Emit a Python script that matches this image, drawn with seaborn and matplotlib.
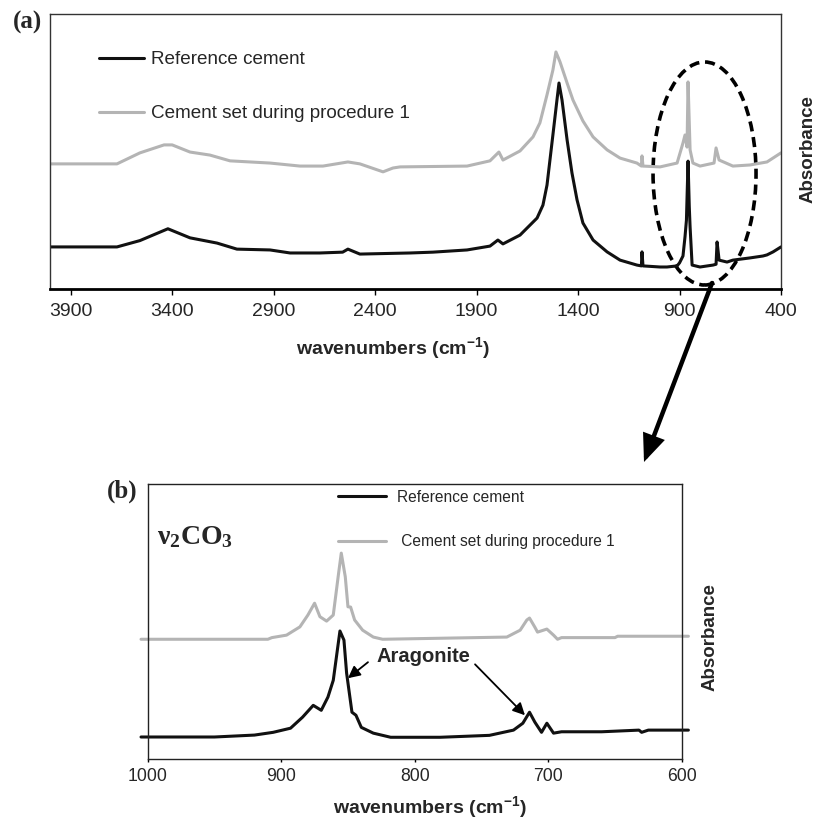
import matplotlib
matplotlib.use('Agg')
import matplotlib.pyplot as plt
import seaborn as sns
from matplotlib.patches import Ellipse, FancyArrowPatch

# ---------------- data ----------------
LABEL_REF = "Reference cement"
LABEL_CEM = "Cement set during procedure 1"

# panel (a): full spectrum
TOP_WN_REF = [4000, 3672, 3559, 3421, 3312, 3179, 3081, 2918, 2819, 2672, 2560, 2534,
              2475, 2228, 2115, 1947, 1834, 1795, 1770, 1686, 1602, 1573, 1553, 1524,
              1504, 1494, 1479, 1454, 1430, 1405, 1376, 1326, 1257, 1193, 1110, 1088,
              1085, 1080, 996, 962, 912, 900, 883, 873, 866, 858, 852, 848, 838, 799,
              735, 720, 715, 705, 666, 637, 553, 489, 469, 439, 400]
TOP_ABS_REF = [0.153, 0.153, 0.176, 0.219, 0.186, 0.167, 0.145, 0.142, 0.131, 0.131, 0.134, 0.145,
               0.127, 0.131, 0.134, 0.142, 0.156, 0.178, 0.164, 0.196, 0.258, 0.305, 0.378, 0.560,
               0.687, 0.749, 0.687, 0.542, 0.422, 0.324, 0.240, 0.178, 0.135, 0.105, 0.087, 0.084,
               0.135, 0.084, 0.080, 0.080, 0.084, 0.095, 0.120, 0.190, 0.250, 0.465, 0.300, 0.226,
               0.087, 0.080, 0.087, 0.090, 0.171, 0.105, 0.098, 0.105, 0.113, 0.120, 0.124, 0.135,
               0.153]
TOP_WN_CEM = [4000, 3672, 3559, 3440, 3400, 3312, 3214, 3115, 2918, 2770, 2657, 2534,
              2475, 2361, 2312, 2277, 1947, 1834, 1790, 1770, 1686, 1622, 1588, 1553,
              1524, 1509, 1489, 1454, 1425, 1376, 1326, 1257, 1193, 1110, 1088, 1085,
              1080, 996, 912, 883, 873, 863, 858, 848, 834, 799, 730, 720, 705, 637,
              553, 469, 400]
TOP_ABS_CEM = [0.455, 0.455, 0.495, 0.524, 0.524, 0.498, 0.487, 0.466, 0.458, 0.447, 0.447, 0.462,
               0.455, 0.426, 0.440, 0.444, 0.447, 0.466, 0.498, 0.469, 0.502, 0.553, 0.604, 0.706,
               0.796, 0.862, 0.826, 0.749, 0.687, 0.611, 0.553, 0.506, 0.476, 0.458, 0.447, 0.484,
               0.447, 0.444, 0.458, 0.531, 0.560, 0.516, 0.753, 0.506, 0.458, 0.447, 0.458, 0.513,
               0.469, 0.447, 0.451, 0.462, 0.495]
TOP_TICKS = [3900, 3400, 2900, 2400, 1900, 1400, 900, 400]

# panel (b): nu2 CO3 region
BOT_WN_REF = [1005, 950, 920, 906, 893, 884, 876, 870, 865, 861, 856, 853, 851, 847, 844,
              840, 831, 818, 781, 744, 726, 719, 714, 710, 705, 701, 696, 690, 660, 632,
              630, 625, 595]
BOT_ABS_REF = [0.081, 0.081, 0.088, 0.098, 0.113, 0.153, 0.196, 0.178, 0.226, 0.287, 0.466,
               0.433, 0.313, 0.171, 0.160, 0.116, 0.095, 0.080, 0.080, 0.087, 0.106, 0.131,
               0.171, 0.135, 0.098, 0.131, 0.095, 0.100, 0.100, 0.106, 0.098, 0.106, 0.106]
BOT_WN_CEM = [1005, 910, 907, 896, 886, 880, 875, 871, 866, 861, 857, 855, 852, 850, 848,
              845, 839, 831, 824, 731, 721, 716, 714, 710, 708, 701, 696, 693, 690, 650,
              648, 595]
BOT_ABS_CEM = [0.436, 0.436, 0.442, 0.451, 0.481, 0.524, 0.567, 0.518, 0.502, 0.524, 0.676,
               0.749, 0.663, 0.554, 0.553, 0.506, 0.469, 0.444, 0.436, 0.444, 0.469, 0.506,
               0.513, 0.480, 0.462, 0.473, 0.451, 0.436, 0.442, 0.442, 0.447, 0.447]
BOT_TICKS = [1000, 900, 800, 700, 600]

# ---------------- style ----------------
sns.set_style('white')
plt.rcParams['font.family'] = ['Liberation Sans', 'DejaVu Sans']
plt.rcParams['mathtext.default'] = 'regular'

BLACK = '#111111'
GRAY = '#b4b4b4'
W, H = 815, 825

def fx(px):
    return px / W

def fy(py):
    return 1 - py / H

fig = plt.figure(figsize=(W / 100, H / 100), dpi=100)
ax1 = fig.add_axes([fx(50), fy(289), 731 / W, 275 / H])
ax2 = fig.add_axes([fx(147.7), fy(759.3), 534 / W, 275.3 / H])

# ---------------- panel (a) ----------------
sns.lineplot(x=TOP_WN_REF, y=TOP_ABS_REF, ax=ax1, color=BLACK, lw=2.2,
             estimator=None, sort=False, label=LABEL_REF)
sns.lineplot(x=TOP_WN_CEM, y=TOP_ABS_CEM, ax=ax1, color=GRAY, lw=2.2,
             estimator=None, sort=False, label=LABEL_CEM)
for ln in ax1.get_lines():
    ln.set_solid_capstyle('round')
    ln.set_solid_joinstyle('round')

ax1.set_xlim(4002, 400)
ax1.set_ylim(0, 1)
ax1.set_xticks(TOP_TICKS)
ax1.set_xticklabels([str(t) for t in TOP_TICKS])
ax1.set_yticks([])
ax1.tick_params(axis='x', bottom=True, direction='out', length=4.3, width=1,
                labelsize=14, pad=6, color='black')
for side in ['top', 'right', 'left']:
    ax1.spines[side].set_linewidth(1.0)
    ax1.spines[side].set_color('#333333')
ax1.spines['bottom'].set_linewidth(2.0)
ax1.spines['bottom'].set_color('black')

ax1.set_xlabel('wavenumbers (cm$^{-1}$)', fontsize=14, fontweight='bold')
ax1.xaxis.set_label_coords(0.469, -0.2145)
ax1.xaxis.label.set_va('center')
ax1.set_ylabel('')
ax1.text(1.037, 0.509, 'Absorbance', rotation=90, ha='center', va='center',
         fontsize=13.5, fontweight='bold', transform=ax1.transAxes)

h, l = ax1.get_legend_handles_labels()
ax1.legend(h, l, loc='upper left', bbox_to_anchor=(0.067, 0.8654), frameon=False,
           fontsize=13.6, handlelength=2.38, handletextpad=0.37, labelspacing=1.95,
           borderpad=0, borderaxespad=0)

ax1.add_patch(Ellipse(xy=(0.8954, 0.42), width=0.1409, height=0.811,
                      transform=ax1.transAxes, fill=False, lw=2.6, ec='black',
                      ls=(0, (2.8, 1.6)), clip_on=False))

# ---------------- panel (b) ----------------
sns.lineplot(x=BOT_WN_REF, y=BOT_ABS_REF, ax=ax2, color=BLACK, lw=2.2,
             estimator=None, sort=False, label=LABEL_REF)
sns.lineplot(x=BOT_WN_CEM, y=BOT_ABS_CEM, ax=ax2, color=GRAY, lw=2.2,
             estimator=None, sort=False, label=' ' + LABEL_CEM)
for ln in ax2.get_lines():
    ln.set_clip_on(False)
    ln.set_solid_capstyle('round')
    ln.set_solid_joinstyle('round')

ax2.set_xlim(1000, 600)
ax2.set_ylim(0, 1)
ax2.set_xticks(BOT_TICKS)
ax2.set_xticklabels([str(t) for t in BOT_TICKS])
ax2.set_yticks([])
ax2.tick_params(axis='x', bottom=True, direction='out', length=2.4, width=1,
                labelsize=12.7, pad=4, color='black')
for side in ['top', 'right', 'left', 'bottom']:
    ax2.spines[side].set_linewidth(1.0)
    ax2.spines[side].set_color('#222222')

ax2.set_xlabel('wavenumbers (cm$^{-1}$)', fontsize=14, fontweight='bold')
ax2.xaxis.set_label_coords(0.5287, -0.173)
ax2.xaxis.label.set_va('center')
ax2.set_ylabel('')
ax2.text(1.053, 0.444, 'Absorbance', rotation=90, ha='center', va='center',
         fontsize=13.5, fontweight='bold', transform=ax2.transAxes)

h, l = ax2.get_legend_handles_labels()
ax2.legend(h, l, loc='upper left', bbox_to_anchor=(0.3564, 0.980), frameon=False,
           fontsize=11.2, handlelength=3.1, handletextpad=0.69, labelspacing=1.9,
           borderpad=0, borderaxespad=0)

ax2.text(0.0169, 0.8075, 'ν$_2$CO$_3$', transform=ax2.transAxes, ha='left', va='center',
         fontsize=20, fontweight='bold', family=['Liberation Serif', 'DejaVu Serif'])

ax2.text(793.6, 0.372, 'Aragonite', ha='center', va='center', fontsize=14.5,
         fontweight='bold')
arrow_kw = dict(arrowstyle='-|>,head_length=0.6,head_width=0.3', mutation_scale=12,
                lw=1.3, color='black', shrinkA=0, shrinkB=0)
ax2.annotate('', xy=(850, 0.2945), xytext=(835, 0.3527), arrowprops=arrow_kw)
ax2.annotate('', xy=(717.4, 0.160), xytext=(754.8, 0.345), arrowprops=arrow_kw)

# ---------------- figure-level decorations ----------------
fig.text(fx(27), fy(22), '(a)', ha='center', va='center', fontsize=18, fontweight='bold',
         family=['Liberation Serif', 'DejaVu Serif'])
fig.text(fx(122), fy(491), '(b)', ha='center', va='center', fontsize=18, fontweight='bold',
         family=['Liberation Serif', 'DejaVu Serif'])

big_arrow = FancyArrowPatch(posA=(fx(712), fy(283)), posB=(fx(644), fy(462)),
                            transform=fig.transFigure,
                            arrowstyle='-|>,head_length=0.6,head_width=0.25',
                            mutation_scale=24, lw=3.2, color='black',
                            shrinkA=0, shrinkB=0, joinstyle='miter')
fig.add_artist(big_arrow)

fig.savefig('out.png', dpi=100)
